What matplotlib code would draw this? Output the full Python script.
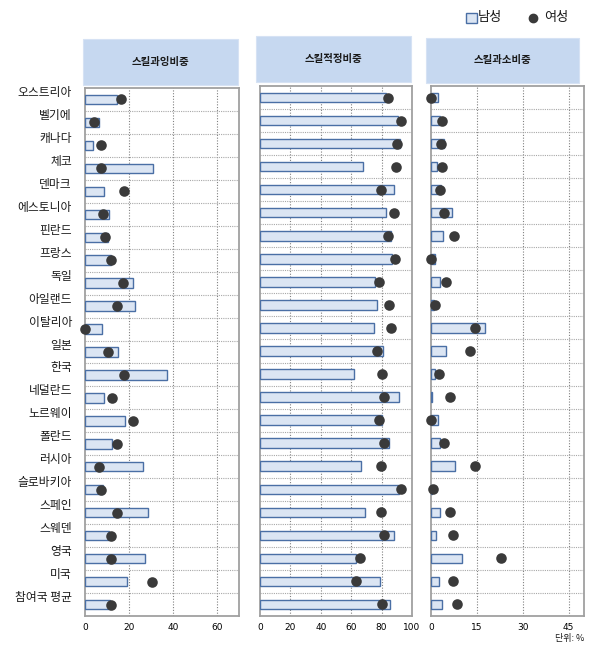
import matplotlib
matplotlib.use("Agg")
import matplotlib.pyplot as plt
from matplotlib.patches import Rectangle
from matplotlib.lines import Line2D
import matplotlib.transforms as mtransforms

plt.rcParams['font.family'] = ['Noto Sans CJK KR', 'DejaVu Sans']

countries = ['오스트리아', '벨기에', '캐나다', '체코', '덴마크', '에스토니아', '핀란드', '프랑스',
             '독일', '아일랜드', '이탈리아', '일본', '한국', '네덜란드', '노르웨이', '폴란드',
             '러시아', '슬로바키아', '스페인', '스웨덴', '영국', '미국', '참여국 평균']

excess_m = [14.4, 6.5, 3.5, 30.8, 8.5, 10.8, 10.5, 11.8, 21.7, 22.6, 7.6, 14.8, 37.4, 8.5,
            18.0, 12.1, 26.2, 8.2, 28.5, 11.1, 27.1, 19.1, 11.2]
excess_f = [16.2, 4.1, 7.1, 7.1, 17.6, 8.2, 9.1, 11.8, 17.3, 14.4, 0.0, 10.3, 17.6, 12.3,
            21.7, 14.4, 6.2, 7.1, 14.4, 11.8, 11.7, 30.3, 11.8]

adequate_m = [83.1, 91.0, 92.3, 67.8, 88.2, 82.9, 86.4, 87.1, 75.7, 77.0, 75.0, 80.7, 61.8, 91.4,
              80.0, 84.9, 66.4, 91.4, 69.1, 88.2, 63.2, 78.9, 85.5]
adequate_f = [84.2, 92.8, 90.1, 89.5, 79.8, 87.9, 84.2, 88.8, 78.3, 84.9, 86.2, 77.0, 80.3, 81.6,
              78.3, 81.6, 79.8, 92.8, 79.8, 81.6, 65.8, 63.2, 80.3]

short_m = [2.3, 2.8, 4.3, 2.0, 3.4, 6.9, 3.9, 1.2, 2.9, 0.9, 17.7, 4.9, 1.3, 0.3,
           2.3, 2.9, 7.9, 0.4, 2.9, 1.5, 10.2, 2.6, 3.6]
short_f = [0.0, 3.5, 3.2, 3.5, 2.8, 4.1, 7.4, 0.0, 4.9, 1.2, 14.4, 12.7, 2.6, 6.1,
           0.0, 4.1, 14.4, 0.5, 6.1, 7.1, 22.8, 7.1, 8.5]

titles = ['스킬과잉비중', '스킬적정비중', '스킬과소비중']
xlims = [70, 100, 50]
xticks = [[0, 20, 40, 60], [0, 20, 40, 60, 80, 100], [0, 15, 30, 45]]

W, H = 609, 650
fig = plt.figure(figsize=(W / 100, H / 100), dpi=100)

# panel geometry in pixels: left, right, top, bottom
panels = [(85, 239, 88, 616), (260, 412, 86, 616), (431, 584, 86, 616)]
headers = [(83, 238, 39, 85), (256, 411, 36, 82), (426, 579, 38, 83)]

bar_face = '#dbe5f3'
bar_edge = '#4a6fa5'
dot_col = '#3a3a3a'

data = [(excess_m, excess_f), (adequate_m, adequate_f), (short_m, short_f)]
n = len(countries)
ypos = list(range(n))

for i, ((l, r, t, b), (men, women)) in enumerate(zip(panels, data)):
    ax = fig.add_axes([l / W, 1 - b / H, (r - l) / W, (b - t) / H])
    ax.barh(ypos, men, height=0.41, color=bar_face, edgecolor=bar_edge, linewidth=1.0, zorder=3)
    ax.scatter(women, ypos, s=58, color=dot_col, zorder=4, clip_on=False, linewidths=0)
    ax.set_xlim(0, xlims[i])
    ax.set_ylim(n - 0.5, -0.5)
    ax.set_xticks(xticks[i])
    ax.tick_params(axis='x', length=0, labelsize=6.5, pad=5)
    ax.tick_params(axis='y', length=0)
    ax.set_yticks([])
    for lab in ax.get_xticklabels():
        lab.set_family(['DejaVu Sans'])
    # vertical grid
    for xv in xticks[i][1:]:
        ax.axvline(xv, color='#808080', linestyle=(0, (1, 1.5)), linewidth=0.8, zorder=1)
    # horizontal row separators
    for k in range(n - 1):
        ax.axhline(k + 0.5, color='#a8a8a8', linestyle=(0, (1, 1)), linewidth=0.8, zorder=1)
    for sp in ax.spines.values():
        sp.set_color('#a0a0a0')
        sp.set_linewidth(1.3)
    if i == 0:
        off = mtransforms.offset_copy(ax.transData, fig=fig, x=0, y=7, units='dots')
        blend = mtransforms.blended_transform_factory(ax.transAxes, off)
        for k, c in enumerate(countries):
            ax.text(-13 / (r - l), k, c, transform=blend, ha='right', va='center',
                    fontsize=8.5, color='#1a1a1a')

    hl, hr, ht, hb = headers[i]
    fig.patches.append(Rectangle((hl / W, 1 - hb / H), (hr - hl) / W, (hb - ht) / H,
                                 transform=fig.transFigure, facecolor='#c6d8f0',
                                 edgecolor='#d6e2f4', linewidth=0.8))
    fig.text((hl + hr) / 2 / W, 1 - (ht + hb) / 2 / H, titles[i], ha='center', va='center',
             fontsize=7.5, fontweight='bold', color='#1a1a1a')

# legend
fig.patches.append(Rectangle((466 / W, 1 - 23 / H), 11 / W, 10 / H, transform=fig.transFigure,
                             facecolor=bar_face, edgecolor=bar_edge, linewidth=1.0))
fig.text(478 / W, 1 - 18 / H, '남성', ha='left', va='center', fontsize=9.5, color='#1a1a1a')
fig.lines.append(Line2D([533 / W], [1 - 18 / H], transform=fig.transFigure, marker='o',
                        markersize=6, color=dot_col, linestyle='none'))
fig.text(544 / W, 1 - 17 / H, '여성', ha='left', va='center', fontsize=9.5, color='#1a1a1a')

fig.text(584 / W, 1 - 638 / H, '단위: %', ha='right', va='center', fontsize=6.5, color='#1a1a1a')

fig.savefig('out.png', dpi=100)
